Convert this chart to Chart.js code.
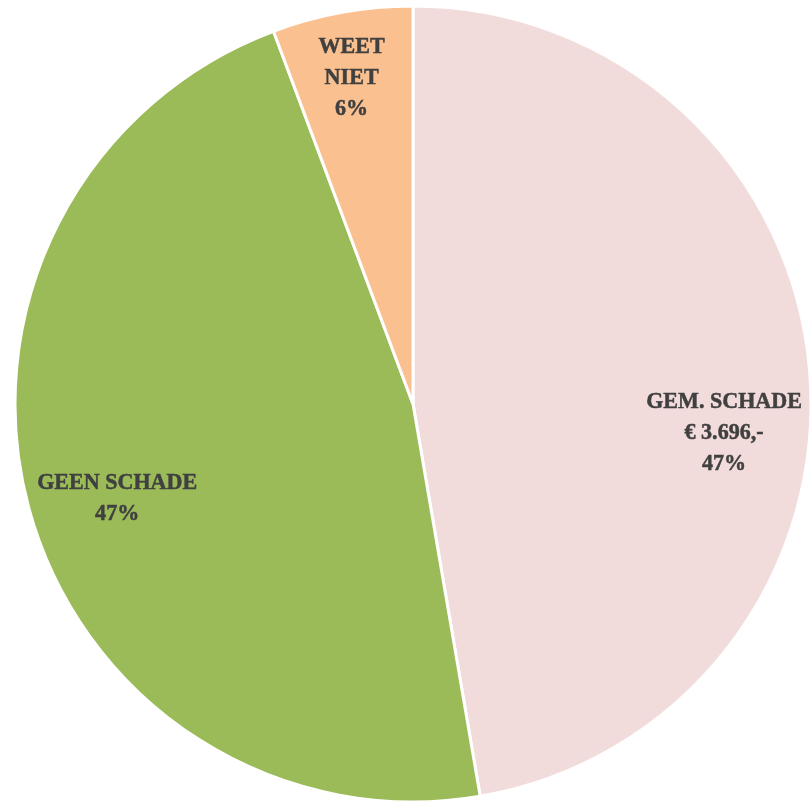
<!DOCTYPE html>
<html><head><meta charset="utf-8">
<script src="https://cdn.jsdelivr.net/npm/chart.js@4.4.0/dist/chart.umd.min.js"></script>
<style>
html,body{margin:0;padding:0;background:#fff;overflow:hidden;width:811px;height:801px;}
#wrap{position:absolute;left:0;top:0;width:826px;height:808px;}
</style></head><body>
<div id="wrap"><canvas id="c" width="826" height="808"></canvas></div>
<script>
const categories = ["GEM. SCHADE", "GEEN SCHADE", "WEET NIET"];
const values = [47.3, 47.0, 5.7];
const labelLines = [["GEM. SCHADE", "€ 3.696,-", "47%"], ["GEEN SCHADE", "47%"], ["WEET", "NIET", "6%"]];
const colors = ["#F2DCDB", "#9BBB59", "#FAC090"];
const labelPlace = [{a:0.56, r:0.785}, {a:0.485, r:0.78}, {a:0.48, r:0.833}];

const labelPlugin = {
  id: 'sliceLabels',
  afterDatasetsDraw(chart) {
    const ctx = chart.ctx;
    const meta = chart.getDatasetMeta(0);
    const lh = 31;
    const sx = 0.92;
    meta.data.forEach((arc, i) => {
      const p = arc.getProps(['x','y','startAngle','endAngle','outerRadius'], true);
      const ang = p.startAngle + (p.endAngle - p.startAngle) * labelPlace[i].a;
      const rr = p.outerRadius * labelPlace[i].r;
      const cx = p.x + Math.cos(ang) * rr;
      const cy = p.y + Math.sin(ang) * rr;
      const lines = labelLines[i];
      const y0 = cy - (lines.length - 1) * lh / 2;
      lines.forEach((t, k) => {
        ctx.save();
        ctx.translate(cx, y0 + k * lh);
        ctx.scale(sx, 1);
        ctx.fillStyle = '#404040';
        ctx.strokeStyle = '#404040';
        ctx.lineWidth = 0.5;
        ctx.font = 'bold 24px "Liberation Serif", serif';
        ctx.textAlign = 'center';
        ctx.textBaseline = 'middle';
        ctx.fillText(t, 0, 0);
        ctx.strokeText(t, 0, 0);
        ctx.restore();
      });
    });
  }
};

new Chart(document.getElementById('c'), {
  type: 'pie',
  data: {
    labels: categories,
    datasets: [{
      data: values,
      backgroundColor: colors,
      borderColor: '#ffffff',
      borderWidth: 3
    }]
  },
  options: {
    responsive: false,
    animation: false,
    layout: { padding: 4.5 },
    plugins: { legend: { display: false }, tooltip: { enabled: false } }
  },
  plugins: [labelPlugin]
});
</script>
</body></html>
